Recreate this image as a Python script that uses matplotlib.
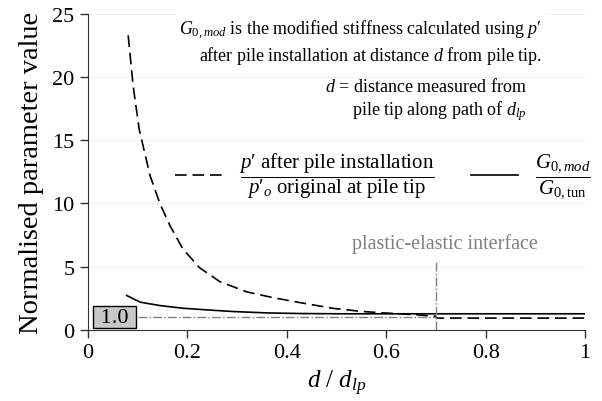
import matplotlib
matplotlib.use("Agg")
import matplotlib.pyplot as plt

plt.rcParams['font.family'] = ['Liberation Serif', 'DejaVu Serif']
plt.rcParams['mathtext.fontset'] = 'custom'
plt.rcParams['mathtext.rm'] = 'Liberation Serif'
plt.rcParams['mathtext.it'] = 'Liberation Serif:italic'

# p' after installation / p'0 at pile tip (dashed)
x_p = [0.081, 0.091, 0.103, 0.125, 0.145, 0.165, 0.191, 0.225, 0.266, 0.32,
       0.372, 0.42, 0.493, 0.547, 0.594, 0.66, 0.699, 0.701, 1.0]
y_p = [23.3, 19.3, 15.9, 12.2, 9.97, 8.25, 6.4, 4.9, 3.8, 3.0,
       2.55, 2.2, 1.7, 1.47, 1.34, 1.19, 1.08, 0.93, 0.93]

# G0,mod / G0,tun (solid)
x_g = [0.078, 0.105, 0.145, 0.191, 0.239, 0.292, 0.36, 0.427, 0.507, 0.6, 1.0]
y_g = [2.72, 2.19, 1.92, 1.71, 1.58, 1.45, 1.34, 1.29, 1.27, 1.27, 1.27]

ref_value = 1.0
x_interface = 0.7
yticks = [0, 5, 10, 15, 20, 25]
xticks = [0, 0.2, 0.4, 0.6, 0.8, 1]
xtick_labels = ['0', '0.2', '0.4', '0.6', '0.8', '1']

fig = plt.figure(figsize=(6.02, 4.02), dpi=100)
ax = fig.add_axes([0.146, 0.177, 0.826, 0.786])

for yv in yticks[1:]:
    ax.axhline(yv, color='#eeeeee', lw=0.6, zorder=0)

l1, = ax.plot(x_p, y_p, color='black', lw=1.2, dashes=(7, 3.5),
              label="$\\dfrac{p′\\mathrm{\\ after\\ pile\\ installation}}{p′_{o}\\mathrm{\\ original\\ at\\ pile\\ tip}}$")
l2, = ax.plot(x_g, y_g, color='black', lw=1.2,
              label=r"$\dfrac{G_{0,mod}}{G_{0,\mathrm{tun}}}$")

ax.plot([0.1, x_interface], [ref_value, ref_value], color='#808080', lw=1, ls='-.')
ax.plot([x_interface, x_interface], [0, 5.4], color='#808080', lw=1, ls='-.')

ax.text(0.054, ref_value, ' 1.0 ', ha='center', va='center', fontsize=16,
        bbox=dict(boxstyle='square,pad=0.08', facecolor='#c8c8c8', edgecolor='black', lw=1))

ax.text(0.718, 6.9, 'plastic-elastic interface', ha='center', va='center',
        fontsize=14.5, color='#808080')

ax.text(0.913, 22.8,
        "$G_{0,mod}$ is the modified stiffness calculated using $p$′\n"
        "after pile installation at distance $d$ from pile tip.",
        ha='right', va='center', multialignment='right', fontsize=13,
        bbox=dict(facecolor='white', edgecolor='none', pad=2))
ax.text(0.883, 18.2,
        "$d$ = distance measured from\npile tip along path of $d_{lp}$",
        ha='right', va='center', multialignment='right', fontsize=13)

ax.legend(handles=[l1, l2], ncol=2, frameon=False, fontsize=15,
          loc='center left', bbox_to_anchor=(0.175, 0.49),
          borderpad=0, borderaxespad=0, handlelength=2.3,
          handletextpad=0.8, columnspacing=1.7)

ax.set_xlim(0, 1)
ax.set_ylim(0, 25)
ax.set_xticks(xticks)
ax.set_xticklabels(xtick_labels)
ax.set_yticks(yticks)
ax.tick_params(direction='out', length=6, width=1, labelsize=16, color='#333333')
for s in ['top', 'right']:
    ax.spines[s].set_visible(False)
for s in ['left', 'bottom']:
    ax.spines[s].set_color('#333333')
ax.set_ylabel('Normalised parameter value', fontsize=20.5, labelpad=6)
ax.set_xlabel('$d$ / $d_{lp}$', fontsize=18, labelpad=4)

fig.savefig('out.png', dpi=100)
